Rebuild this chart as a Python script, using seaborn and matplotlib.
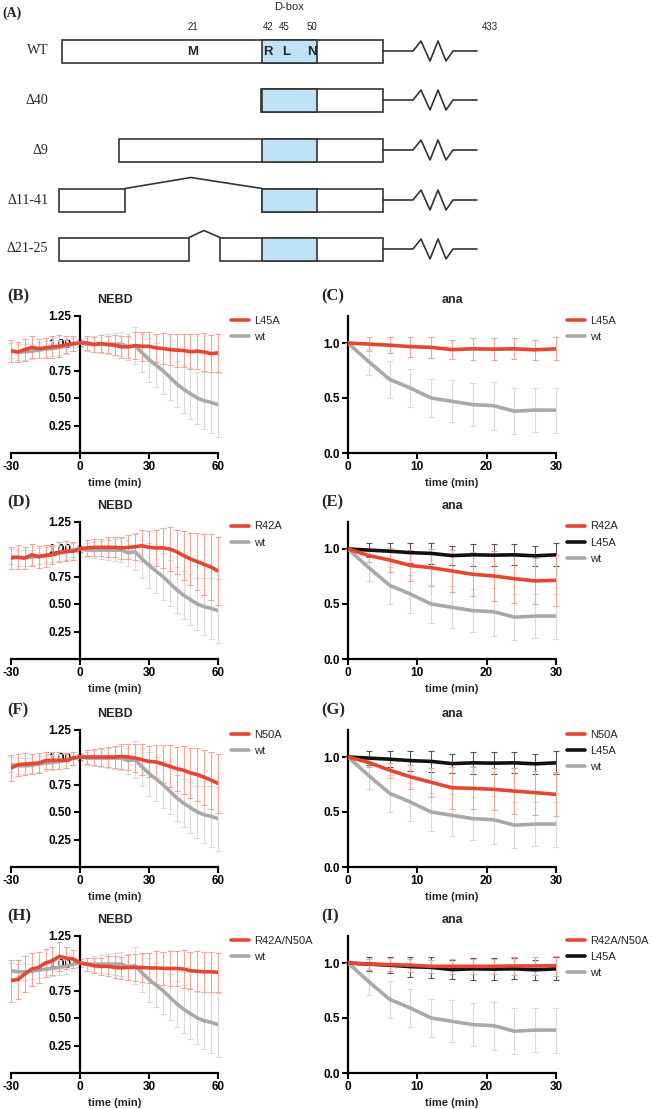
import matplotlib
matplotlib.use("Agg")
import matplotlib.pyplot as plt
from matplotlib.lines import Line2D
from matplotlib.patches import Rectangle
import pandas as pd
import seaborn as sns

# ---- panel A schematic (positions in schematic units) ----
CONSTRUCTS = ["WT", "Δ40", "Δ9", "Δ11-41", "Δ21-25"]
ROW_Y = [51, 100, 150, 200, 249]
CONSTRUCT_BOXES = [[(62, 383)], [(261, 383)], [(119, 383)],
                   [(59, 125), (262, 383)], [(59, 189), (220, 383)]]
DBOX_SPAN = (262, 317)
DELETION_HINGE = [None, None, None, (125, 191, 262, 11), (189, 204, 220, 7)]
TAIL_X = [383, 413, 421, 430, 438, 446, 453, 477]
TAIL_DY = [0, 0, -10, 10, -10, 10, 0, 0]
RESIDUE_LABELS = ["21", "42", "45", "50", "433"]
RESIDUE_X = [193, 268, 284, 312, 490]
MOTIF_LETTERS = ["M", "R", "L", "N"]
MOTIF_X = [193, 268, 286, 312]

# ---- degradation kinetics ----
TIME_NEBD = [-30, -27, -24, -21, -18, -15, -12, -9, -6, -3, 0, 3, 6, 9, 12, 15,
             18, 21, 24, 27, 30, 33, 36, 39, 42, 45, 48, 51, 54, 57, 60]
TIME_ANA = [0, 3, 6, 9, 12, 15, 18, 21, 24, 27, 30]

wt_nebd = [0.93, 0.92, 0.92, 0.925, 0.935, 0.945, 0.95, 0.96, 0.97, 0.99, 1.0,
           0.99, 0.99, 0.99, 0.99, 0.99, 0.99, 0.965, 0.975, 0.91, 0.85, 0.80,
           0.75, 0.69, 0.63, 0.58, 0.54, 0.50, 0.475, 0.46, 0.44]
wt_nebd_sd = [0.07, 0.07, 0.07, 0.07, 0.07, 0.07, 0.07, 0.07, 0.07, 0.06, 0.04,
              0.06, 0.07, 0.08, 0.09, 0.10, 0.11, 0.12, 0.17, 0.17, 0.20, 0.20,
              0.21, 0.21, 0.21, 0.22, 0.23, 0.24, 0.26, 0.28, 0.29]
l45a_nebd = [0.926, 0.918, 0.94, 0.96, 0.95, 0.956, 0.965, 0.97, 0.985, 0.994, 1.0,
             1.0, 0.985, 0.994, 0.985, 0.98, 0.965, 0.965, 0.976, 0.97, 0.97, 0.956,
             0.95, 0.94, 0.935, 0.932, 0.92, 0.926, 0.918, 0.903, 0.91]
l45a_nebd_sd = [0.10, 0.09, 0.10, 0.10, 0.09, 0.09, 0.10, 0.10, 0.08, 0.07, 0.03,
                0.06, 0.07, 0.08, 0.08, 0.09, 0.10, 0.10, 0.12, 0.13, 0.13, 0.13,
                0.14, 0.14, 0.15, 0.15, 0.16, 0.16, 0.17, 0.17, 0.17]
r42a_nebd = [0.918, 0.926, 0.918, 0.947, 0.93, 0.94, 0.95, 0.97, 0.98, 0.98, 1.0,
             1.01, 1.015, 1.015, 1.015, 1.015, 1.01, 1.015, 1.02, 1.03, 1.015, 1.01,
             1.01, 1.0, 0.975, 0.94, 0.91, 0.885, 0.86, 0.835, 0.80]
r42a_nebd_sd = [0.10, 0.11, 0.10, 0.10, 0.10, 0.10, 0.09, 0.09, 0.09, 0.08, 0.03,
                0.07, 0.08, 0.08, 0.09, 0.09, 0.10, 0.11, 0.12, 0.14, 0.15, 0.16,
                0.18, 0.20, 0.20, 0.22, 0.24, 0.26, 0.28, 0.30, 0.31]
n50a_nebd = [0.90, 0.93, 0.936, 0.94, 0.945, 0.967, 0.97, 0.97, 0.97, 0.99, 1.0,
             1.0, 1.0, 1.0, 1.0, 1.0, 1.005, 1.0, 0.99, 0.975, 0.96, 0.955,
             0.936, 0.915, 0.894, 0.88, 0.855, 0.84, 0.815, 0.79, 0.76]
n50a_nebd_sd = [0.12, 0.10, 0.10, 0.09, 0.09, 0.08, 0.08, 0.08, 0.07, 0.06, 0.03,
                0.06, 0.07, 0.08, 0.09, 0.10, 0.11, 0.12, 0.13, 0.14, 0.14, 0.15,
                0.17, 0.19, 0.20, 0.22, 0.23, 0.24, 0.25, 0.26, 0.27]
r42a_n50a_nebd = [0.84, 0.85, 0.90, 0.945, 0.96, 1.0, 1.02, 1.06, 1.045, 1.037, 1.0,
                  0.99, 0.975, 0.97, 0.97, 0.96, 0.955, 0.96, 0.96, 0.96, 0.955, 0.955,
                  0.952, 0.95, 0.95, 0.945, 0.93, 0.925, 0.92, 0.92, 0.915]
r42a_n50a_nebd_sd = [0.19, 0.18, 0.16, 0.15, 0.14, 0.13, 0.13, 0.13, 0.10, 0.08, 0.04,
                     0.06, 0.07, 0.08, 0.09, 0.10, 0.10, 0.11, 0.12, 0.13, 0.14, 0.15,
                     0.15, 0.16, 0.16, 0.17, 0.17, 0.18, 0.18, 0.18, 0.18]

wt_ana = [1.0, 0.83, 0.67, 0.59, 0.50, 0.47, 0.44, 0.43, 0.38, 0.39, 0.39]
wt_ana_sd = [0.0, 0.12, 0.17, 0.175, 0.175, 0.19, 0.195, 0.22, 0.21, 0.20, 0.205]
l45a_ana = [1.0, 0.99, 0.98, 0.967, 0.96, 0.94, 0.947, 0.944, 0.947, 0.938, 0.947]
l45a_ana_sd = [0.0, 0.065, 0.075, 0.09, 0.095, 0.085, 0.10, 0.10, 0.095, 0.09, 0.105]
r42a_ana = [1.0, 0.94, 0.90, 0.85, 0.83, 0.80, 0.77, 0.755, 0.73, 0.71, 0.715]
r42a_ana_sd = [0.0, 0.06, 0.11, 0.14, 0.17, 0.19, 0.20, 0.225, 0.22, 0.21, 0.23]
n50a_ana = [1.0, 0.95, 0.88, 0.82, 0.77, 0.72, 0.715, 0.706, 0.69, 0.676, 0.66]
n50a_ana_sd = [0.0, 0.04, 0.07, 0.11, 0.13, 0.19, 0.19, 0.19, 0.21, 0.20, 0.20]
r42a_n50a_ana = [1.0, 0.99, 0.985, 0.98, 0.97, 0.97, 0.97, 0.97, 0.973, 0.973, 0.976]
r42a_n50a_ana_sd = [0.0, 0.05, 0.06, 0.06, 0.06, 0.07, 0.07, 0.07, 0.08, 0.08, 0.09]

RED, BLACK, GREY = "#E8452F", "#111111", "#A9A9A9"
BAR_COLORS = {RED: "#F3A497", BLACK: "#555555", GREY: "#D9D9D9"}
BLUE = "#BEE3F6"

# panel letter, phase, [(label, colour, mean, sd)] in legend order
PANELS = [
    ("(B)", "NEBD", [("L45A", RED, l45a_nebd, l45a_nebd_sd)]),
    ("(C)", "ana", [("L45A", RED, l45a_ana, l45a_ana_sd)]),
    ("(D)", "NEBD", [("R42A", RED, r42a_nebd, r42a_nebd_sd)]),
    ("(E)", "ana", [("R42A", RED, r42a_ana, r42a_ana_sd),
                    ("L45A", BLACK, l45a_ana, l45a_ana_sd)]),
    ("(F)", "NEBD", [("N50A", RED, n50a_nebd, n50a_nebd_sd)]),
    ("(G)", "ana", [("N50A", RED, n50a_ana, n50a_ana_sd),
                    ("L45A", BLACK, l45a_ana, l45a_ana_sd)]),
    ("(H)", "NEBD", [("R42A/N50A", RED, r42a_n50a_nebd, r42a_n50a_nebd_sd)]),
    ("(I)", "ana", [("R42A/N50A", RED, r42a_n50a_ana, r42a_n50a_ana_sd),
                    ("L45A", BLACK, l45a_ana, l45a_ana_sd)]),
]

W, H = 652, 1109
sns.set_style("ticks")
plt.rcParams["font.family"] = ["Liberation Sans", "DejaVu Sans"]
plt.rcParams["axes.unicode_minus"] = False
SERIF = ["Liberation Serif", "DejaVu Serif"]

fig = plt.figure(figsize=(W / 100, H / 100), dpi=100)


def px_axes(left, top, right, bottom):
    return fig.add_axes([left / W, 1 - bottom / H, (right - left) / W, (bottom - top) / H])


# ---------------- panel A ----------------
axa = px_axes(0, 0, W, 275)
axa.set_xlim(0, W)
axa.set_ylim(275, 0)
axa.axis("off")
edge = "#333333"
for name, yc, boxes, hinge in zip(CONSTRUCTS, ROW_Y, CONSTRUCT_BOXES, DELETION_HINGE):
    top = yc - 11.5
    for x0, x1 in boxes:
        axa.add_patch(Rectangle((x0, top), x1 - x0, 23, fc="white", ec=edge, lw=1.2))
    axa.add_patch(Rectangle((DBOX_SPAN[0], top), DBOX_SPAN[1] - DBOX_SPAN[0], 23,
                            fc=BLUE, ec=edge, lw=1.2))
    if hinge is not None:
        h0, hp, h1, rise = hinge
        axa.plot([h0, hp, h1], [top, top - rise, top], color=edge, lw=1.2)
    axa.plot(TAIL_X, [yc + d for d in TAIL_DY], color=edge, lw=1.2)
    axa.text(48, yc, name, ha="right", va="center", fontsize=10, family=SERIF)
for lab, x in zip(RESIDUE_LABELS, RESIDUE_X):
    axa.text(x, 27, lab, ha="center", va="center", fontsize=7)
for lab, x in zip(MOTIF_LETTERS, MOTIF_X):
    axa.text(x, ROW_Y[0] + 1, lab, ha="center", va="center", fontsize=9.5, fontweight="bold")
axa.text(289, 7, "D-box", ha="center", va="center", fontsize=8)
axa.text(2, 13, "(A)", ha="left", va="center", fontsize=10, fontweight="bold", family=SERIF)

# ---------------- panels B-I ----------------
ROW_BOTTOM = [453, 659, 867, 1073]
COL_X = [(11, 218), (348, 556)]
LABEL_X = [7, 321]

for i, (letter, phase, series) in enumerate(PANELS):
    row, col = divmod(i, 2)
    bottom = ROW_BOTTOM[row]
    left, right = COL_X[col]
    ax = px_axes(left, bottom - 137.5, right, bottom)
    nebd = phase == "NEBD"
    times = TIME_NEBD if nebd else TIME_ANA
    wt = (wt_nebd, wt_nebd_sd) if nebd else (wt_ana, wt_ana_sd)

    draw = [("wt", GREY, wt[0], wt[1])] + list(reversed(series))
    for lab, color, mean, sd in draw:
        ax.errorbar(times, mean, yerr=sd, fmt="none", ecolor=BAR_COLORS[color],
                    elinewidth=0.8, capsize=2.4, capthick=0.8, zorder=1, clip_on=False)
    frames = [pd.DataFrame({"time": times, "value": mean, "series": lab})
              for lab, color, mean, sd in draw]
    df = pd.concat(frames, ignore_index=True)
    sns.lineplot(data=df, x="time", y="value", hue="series",
                 hue_order=[d[0] for d in draw],
                 palette={d[0]: d[1] for d in draw},
                 linewidth=2.6, legend=False, ax=ax, zorder=3)

    ax.set_ylim(0, 1.25)
    if nebd:
        ax.set_xlim(-30, 60)
        ax.set_xticks([-30, 0, 30, 60])
        ax.set_yticks([0.25, 0.5, 0.75, 1.0, 1.25])
        ax.set_yticklabels(["0.25", "0.50", "0.75", "1.00", "1.25"])
        ax.spines["left"].set_position(("data", 0))
    else:
        ax.set_xlim(0, 30)
        ax.set_xticks([0, 10, 20, 30])
        ax.set_yticks([0, 0.5, 1.0])
        ax.set_yticklabels(["0.0", "0.5", "1.0"])
    sns.despine(ax=ax)
    for s in ("left", "bottom"):
        ax.spines[s].set_linewidth(1.6)
        ax.spines[s].set_color("black")
    ax.set_axisbelow(True)
    ax.tick_params(width=1.5, length=4, labelsize=8.5, pad=2, colors="black")
    for t in ax.get_xticklabels() + ax.get_yticklabels():
        t.set_fontweight("bold")
    ax.set_xlabel("time (min)", fontsize=8, fontweight="bold", labelpad=3)
    ax.set_ylabel("")
    ax.set_title(phase, fontsize=9, fontweight="bold", pad=9)

    handles = [Line2D([], [], color=c, lw=2.6) for _, c, _, _ in series]
    labels = [s[0] for s in series]
    handles.append(Line2D([], [], color=GREY, lw=2.6))
    labels.append("wt")
    anchor_x = (231 - left) / (right - left) if col == 0 else (567 - left) / (right - left)
    ax.legend(handles, labels, loc="upper left", bbox_to_anchor=(anchor_x, 1.0),
              frameon=False, fontsize=8, handlelength=1.6, handletextpad=0.5,
              labelspacing=0.55, borderpad=0, borderaxespad=0)

    fig.text(LABEL_X[col] / W, 1 - (bottom - 157) / H, letter, ha="left", va="center",
             fontsize=12, fontweight="bold", family=SERIF)

fig.savefig("out.png", dpi=100)
